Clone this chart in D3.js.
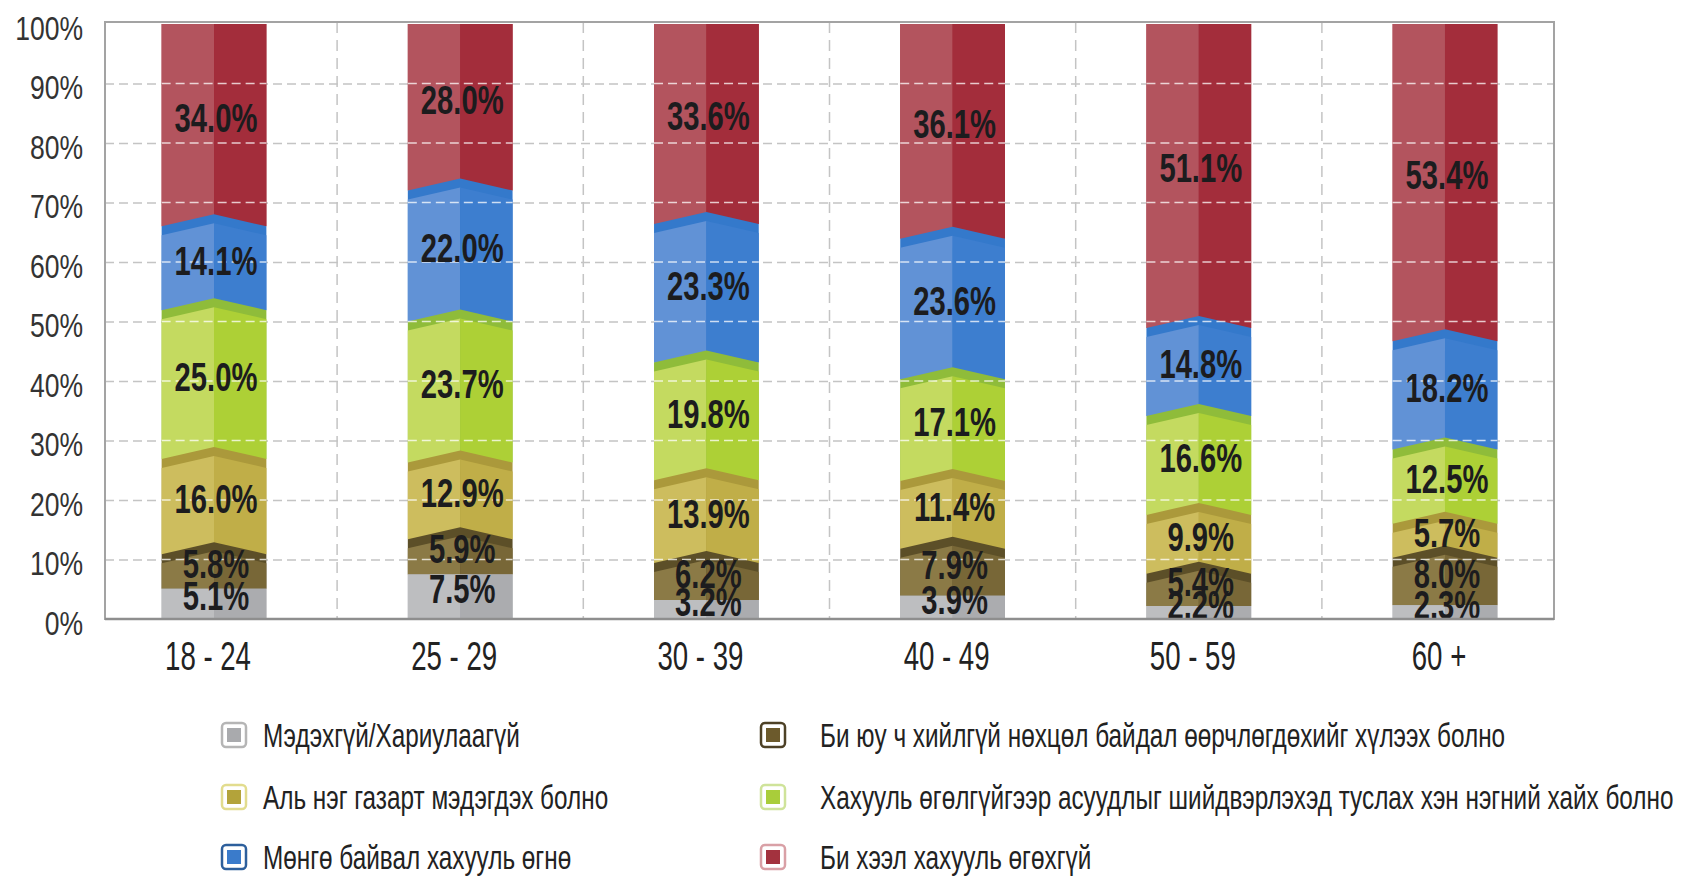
<!DOCTYPE html>
<html>
<head>
<meta charset="utf-8">
<script src="https://cdn.jsdelivr.net/npm/d3@7"></script>
<style>
    body { margin: 0; background: #fff; }
    text { font-family: "Liberation Sans", Arial, sans-serif; }
</style>
</head>
<body>
<svg id="chart" width="1681" height="877"></svg>
<script>

/*
 * Chart data: share of answers per age group, bottom to top
 */
var categories = ['18 - 24', '25 - 29', '30 - 39', '40 - 49', '50 - 59', '60 +'];

var seriesNames = [
    'Мэдэхгүй/Хариулаагүй',
    'Би юу ч хийлгүй нөхцөл байдал өөрчлөгдөхийг хүлээх болно',
    'Аль нэг газарт мэдэгдэх болно',
    'Хахууль өгөлгүйгээр асуудлыг шийдвэрлэхэд туслах хэн нэгний хайх болно',
    'Мөнгө байвал хахууль өгнө',
    'Би хээл хахууль өгөхгүй'
];

var unknownAnswer = [5.1, 7.5, 3.2, 3.9, 2.2, 2.3];
var waitForChange = [5.8, 5.9, 6.2, 7.9, 5.4, 8.0];
var reportIt      = [16.0, 12.9, 13.9, 11.4, 9.9, 5.7];
var seekHelp      = [25.0, 23.7, 19.8, 17.1, 16.6, 12.5];
var payIfMoney    = [14.1, 22.0, 23.3, 23.6, 14.8, 18.2];
var neverPay      = [34.0, 28.0, 33.6, 36.1, 51.1, 53.4];

var yTicks = [0, 10, 20, 30, 40, 50, 60, 70, 80, 90, 100];

/*
 * Colours per series: left face, right face, top (roof) face, legend
 */
var palette = [
    { light: '#bdbec0', dark: '#abacaf', roof: '#abacaf', key: '#a9aaad', rim: '#b5b5b5' },
    { light: '#8b7a46', dark: '#786737', roof: '#5c4f28', key: '#6c5a2c', rim: '#4d4126' },
    { light: '#cdbd5e', dark: '#c0ae48', roof: '#ab993b', key: '#b3a33a', rim: '#e2dc8e' },
    { light: '#c4da60', dark: '#add036', roof: '#8fbc3a', key: '#a9cd3a', rim: '#cfe39a' },
    { light: '#6192d6', dark: '#3d7ecf', roof: '#3479cb', key: '#3a7bcb', rim: '#2d5f9c' },
    { light: '#b3545e', dark: '#a32d3b', roof: '#a32d3b', key: '#a3323e', rim: '#d9a0a6' }
];

var svg = d3.select('#chart');

var plot = { left: 105, top: 22, right: 1554, bottom: 619 };
var peak = 12;   // height of the chevron on a segment top
var roof = 9;    // thickness of the darker top face

/*
 * Squeeze text horizontally to imitate the condensed typeface
 */
condense = function(sel, factor) {
    sel.each(function() {
        var w = this.getComputedTextLength();
        d3.select(this)
            .attr('textLength', w * factor)
            .attr('lengthAdjust', 'spacingAndGlyphs');
    });
}

var table = categories.map(function(c, i) {
    return { cat: c, s0: unknownAnswer[i], s1: waitForChange[i], s2: reportIt[i],
             s3: seekHelp[i], s4: payIfMoney[i], s5: neverPay[i] };
});
var stack = d3.stack().keys(['s0', 's1', 's2', 's3', 's4', 's5'])(table);

var x = d3.scaleBand()
    .domain(categories)
    .range([plot.left, plot.right])
    .paddingInner(0.5745)
    .paddingOuter(0.23);

var y = d3.scaleLinear()
    .domain([0, 100])
    .range([plot.bottom, plot.top + 2])
    .clamp(true);

/*
 * Grid: gray dashes behind the bars
 */
svg.append('g')
    .attr('transform', 'translate(' + plot.left + ',0)')
    .call(d3.axisLeft(y).tickValues(yTicks.slice(1, -1)).tickSize(-(plot.right - plot.left)).tickFormat(''))
    .call(function(g) {
        g.select('.domain').remove();
        g.selectAll('line').attr('stroke', '#c4c4c4').attr('stroke-width', 1.5).attr('stroke-dasharray', '9,5');
    });

var half = x.step() * x.paddingInner() / 2;
svg.append('g').selectAll('line')
    .data(categories.slice(1))
    .join('line')
        .attr('x1', function(c) { return x(c) - half; })
        .attr('x2', function(c) { return x(c) - half; })
        .attr('y1', plot.top)
        .attr('y2', plot.bottom)
        .attr('stroke', '#c4c4c4')
        .attr('stroke-width', 1.5)
        .attr('stroke-dasharray', '11,7');

/*
 * Bars: each segment is drawn as a small prism, top series first
 * so the chevron of the lower segment overlaps the one above
 */
var bars = svg.append('g');
var last = stack.length - 1;
stack.slice().reverse().forEach(function(layer) {
    var k = layer.index;
    var col = palette[k];
    var h = (k == 0 || k == last) ? 0 : peak;
    var t = (k == 0 || k == last) ? 0 : roof;
    var g = bars.append('g');
    layer.forEach(function(d, j) {
        var xL = x(categories[j]), xR = xL + x.bandwidth(), xC = (xL + xR) / 2;
        var y0 = y(d[0]), y1 = y(d[1]);
        g.append('path')
            .attr('d', d3.line()([[xL, y0], [xL, y1], [xC, y1 - h], [xR, y1], [xR, y0]]))
            .attr('fill', col.roof);
        g.append('path')
            .attr('d', d3.line()([[xL, y0], [xL, y1 + t], [xC, y1 - h + t], [xC, y0]]))
            .attr('fill', col.light);
        g.append('path')
            .attr('d', d3.line()([[xC, y0], [xC, y1 - h + t], [xR, y1 + t], [xR, y0]]))
            .attr('fill', col.dark);
    });
});

/*
 * Light dashes of the grid running over the bars
 */
var overlay = svg.append('g');
categories.forEach(function(c) {
    overlay.selectAll(null)
        .data(yTicks.slice(1, -1))
        .join('line')
            .attr('x1', x(c))
            .attr('x2', x(c) + x.bandwidth())
            .attr('y1', function(v) { return y(v); })
            .attr('y2', function(v) { return y(v); })
            .attr('stroke', 'rgba(255,255,255,0.75)')
            .attr('stroke-width', 1.5)
            .attr('stroke-dasharray', '9,5');
});

/*
 * Value labels
 */
var labels = svg.append('g');
stack.forEach(function(layer) {
    labels.selectAll(null)
        .data(layer)
        .join('text')
            .attr('x', function(d, j) { return x(categories[j]) + x.bandwidth() / 2 + 2; })
            .attr('y', function(d) { return y((d[0] + d[1]) / 2) - 8; })
            .attr('dy', '0.36em')
            .attr('text-anchor', 'middle')
            .attr('font-size', 40)
            .attr('font-weight', 'bold')
            .attr('fill', '#1c1c1e')
            .text(function(d) { return (d[1] - d[0]).toFixed(1) + '%'; })
            .call(condense, 0.73);
});

/*
 * Frame and axes
 */
svg.append('rect')
    .attr('x', plot.left)
    .attr('y', plot.top)
    .attr('width', plot.right - plot.left)
    .attr('height', plot.bottom - plot.top)
    .attr('fill', 'none')
    .attr('stroke', '#a3a3a3')
    .attr('stroke-width', 2);

svg.append('line')
    .attr('x1', plot.left).attr('x2', plot.right)
    .attr('y1', plot.bottom).attr('y2', plot.bottom)
    .attr('stroke', '#8e8e8e')
    .attr('stroke-width', 2.5);

svg.append('g')
    .attr('transform', 'translate(' + plot.left + ',0)')
    .call(d3.axisLeft(y).tickValues(yTicks).tickSize(0).tickPadding(22).tickFormat(function(d) { return d + '%'; }))
    .call(function(g) {
        g.select('.domain').remove();
        g.selectAll('text').attr('font-size', 34).attr('fill', '#333').attr('font-family', null)
            .attr('dy', '0.45em')
            .call(condense, 0.78);
    });

svg.append('g')
    .attr('transform', 'translate(0,' + plot.bottom + ')')
    .call(d3.axisBottom(x).tickSize(0).tickPadding(23))
    .call(function(g) {
        g.select('.domain').remove();
        g.selectAll('text').attr('font-size', 40).attr('fill', '#222').attr('font-family', null)
            .attr('dx', -6)
            .call(condense, 0.69);
    });

/*
 * Legend: two columns, filled row by row
 */
var keyX = [222, 761], textX = [263, 820], rowY = [735, 797, 857];
var legend = svg.append('g').selectAll('g')
    .data(seriesNames)
    .join('g')
        .attr('transform', function(d, i) { return 'translate(0,' + rowY[Math.floor(i / 2)] + ')'; });

legend.append('rect')
    .attr('x', function(d, i) { return keyX[i % 2]; })
    .attr('y', -12)
    .attr('width', 24).attr('height', 24)
    .attr('rx', 4)
    .attr('fill', '#fff')
    .attr('stroke', function(d, i) { return palette[i].rim; })
    .attr('stroke-width', 2.5);

legend.append('rect')
    .attr('x', function(d, i) { return keyX[i % 2] + 5; })
    .attr('y', -7)
    .attr('width', 14).attr('height', 14)
    .attr('fill', function(d, i) { return palette[i].key; });

legend.append('text')
    .attr('x', function(d, i) { return textX[i % 2]; })
    .attr('dy', '0.36em')
    .attr('font-size', 34)
    .attr('fill', '#222')
    .text(function(d) { return d; })
    .call(condense, 0.715);

</script>
</body>
</html>
